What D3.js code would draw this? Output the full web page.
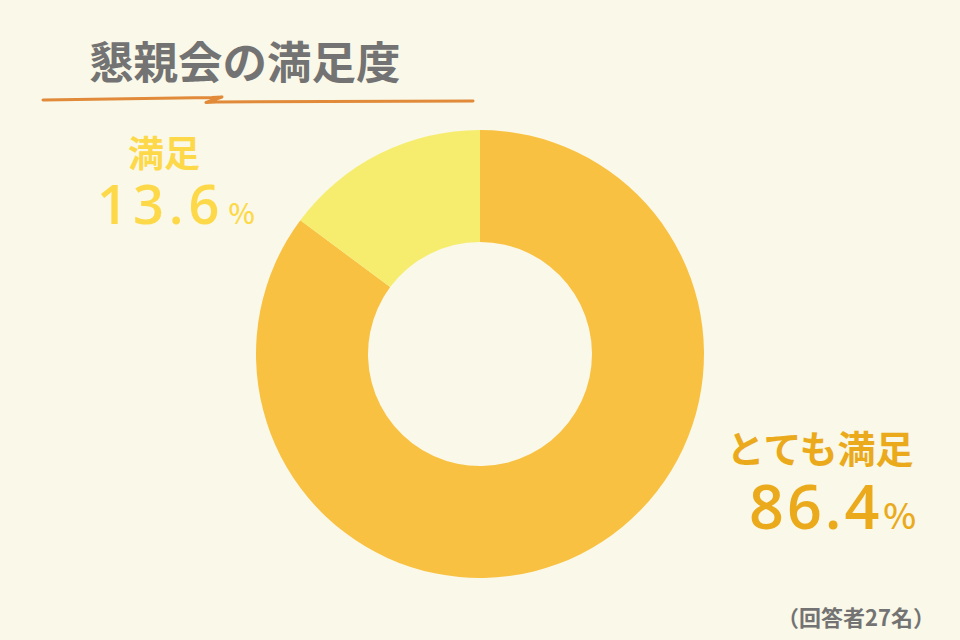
<!DOCTYPE html>
<html><head><meta charset="utf-8">
<script src="https://cdn.jsdelivr.net/npm/d3@7"></script>
<style>html,body{margin:0;padding:0;background:#FAF8E8;}svg{display:block;}</style>
</head><body>
<svg id="chart" width="960" height="640"></svg>
<script>
const categories = ["とても満足", "満足"];
const percentLabels = [86.4, 13.6];
const counts = [23, 4];           // slice sizes as drawn (回答者27名)
const colors = ["#F9C141", "#F6ED6E"];
const labelColors = ["#EAAA1C", "#FDD94A"];
const title = "懇親会の満足度";
const note = "（回答者27名）";

const svg = d3.select("#chart");
const font = "'Noto Sans CJK JP', 'Noto Sans', sans-serif";
const numFont = "'Open Sans', 'Noto Sans', sans-serif";
svg.append("rect").attr("width",960).attr("height",640).attr("fill","#FAF8E8");

// title
svg.append("text").attr("x",89).attr("y",79).text(title)
  .attr("font-family",font).attr("font-weight",700).attr("font-size",44.5)
  .attr("fill","#737373");
svg.append("path")
  .attr("d","M43,100 L212,97.5 L222,97 L206,102.5 L216,102 L473,101")
  .attr("fill","none").attr("stroke","#E08A3A").attr("stroke-width",3)
  .attr("stroke-linejoin","round").attr("stroke-linecap","round");

// donut
const cx = 480, cy = 354, outerR = 224, innerR = 112;
const pie = d3.pie().sort(null).value(d => d)(counts);
const arc = d3.arc().innerRadius(innerR).outerRadius(outerR);
svg.append("g").attr("transform",`translate(${cx},${cy})`)
  .selectAll("path").data(pie).join("path")
  .attr("d",arc).attr("fill",(d,i)=>colors[i]);

// labels
function label(i, nameX, nameY, nameSize, pctX, pctY, pctSize, pctSymSize, ls, symDx) {
  const g = svg.append("g").attr("fill",labelColors[i]);
  g.append("text").attr("x",nameX).attr("y",nameY).attr("text-anchor","middle")
    .attr("font-family",font).attr("font-weight",700).attr("font-size",nameSize).text(categories[i]);
  const t = g.append("text").attr("x",pctX).attr("y",pctY).attr("font-family",numFont).attr("font-weight",600);
  t.append("tspan").attr("font-size",pctSize).attr("letter-spacing",ls).text(percentLabels[i].toFixed(1));
  t.append("tspan").attr("font-size",pctSymSize).attr("dx",symDx).attr("font-weight",500).attr("font-family",font).text("%");
}
label(1, 164, 167, 36, 97, 224, 54, 28, 5, 4);
label(0, 820, 463, 38, 749, 529, 61, 35, 3, 1);

svg.append("text").attr("x",856).attr("y",626).attr("text-anchor","middle")
  .attr("font-family",font).attr("font-weight",700).attr("font-size",22)
  .attr("fill","#737373").text(note);
</script>
</body></html>
